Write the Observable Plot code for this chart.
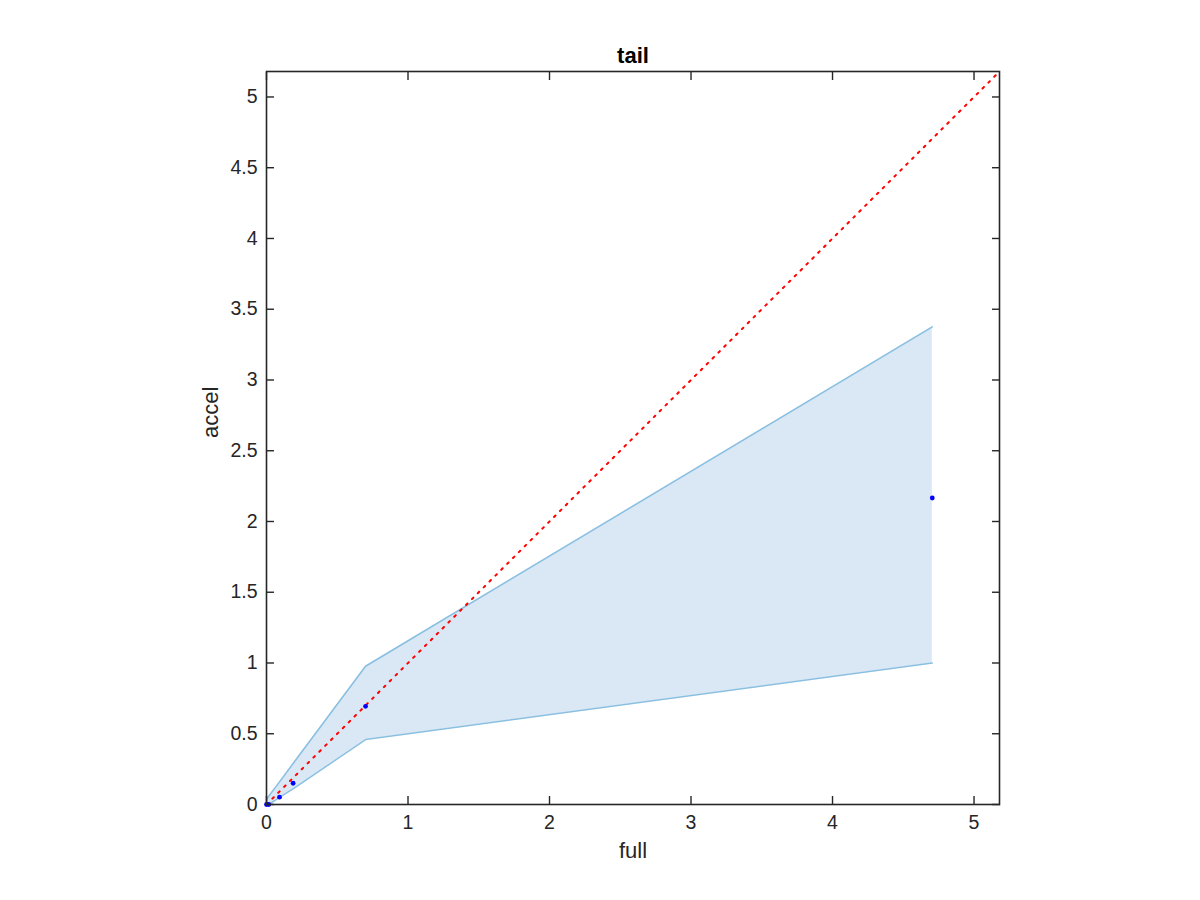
<!DOCTYPE html>
<html>
<head>
<meta charset="utf-8">
<script src="https://cdn.jsdelivr.net/npm/d3@7"></script>
<script src="https://cdn.jsdelivr.net/npm/@observablehq/plot@0.6"></script>
<style>
  html, body { margin: 0; padding: 0; background: #fff; }
  #chart { width: 1200px; height: 900px; }
  svg text { font-family: "Liberation Sans", Arial, Helvetica, sans-serif; }
  g[aria-label="x-axis tick label"], g[aria-label="y-axis tick label"] { font-size: 19.5px; }
</style>
</head>
<body>
<div id="chart"></div>
<script>
const title = "tail";
const xLabel = "full";
const yLabel = "accel";

// measured points
const ptX = [0, 0.016, 0.092, 0.188, 0.70, 4.705];
const ptY = [0, 0.0, 0.052, 0.15, 0.694, 2.166];

// confidence band
const bandX = [0, 0.016, 0.092, 0.188, 0.70, 4.705];
const bandLow = [0, 0.0, 0.05, 0.11, 0.459, 1.0];
const bandHigh = [0.035, 0.059, 0.16, 0.29, 0.977, 3.376];

// identity line extent
const diag = [0, 5.18];
const domainMax = 5.18;

const xTicks = [0, 1, 2, 3, 4, 5];
const yTicks = [0, 0.5, 1, 1.5, 2, 2.5, 3, 3.5, 4, 4.5, 5];

const pts = ptX.map((x, i) => ({x, y: ptY[i]}));
const band = bandX.map((x, i) => ({x, lo: bandLow[i], hi: bandHigh[i]}));
const diagData = diag.map(v => ({v}));

const axisColor = "#262626";
const tickFmt = d => String(d);

const chart = Plot.plot({
  width: 1200,
  height: 900,
  marginLeft: 266,
  marginRight: 201,
  marginTop: 71,
  marginBottom: 96,
  style: {fontFamily: "'Liberation Sans', Arial, Helvetica, sans-serif", background: "#fff"},
  x: {domain: [0, domainMax]},
  y: {domain: [0, domainMax]},
  marks: [
    Plot.areaY(band, {x: "x", y1: "lo", y2: "hi", fill: "#d9e8f4", fillOpacity: 1}),
    Plot.line(band, {x: "x", y: "hi", stroke: "#89bfe1", strokeWidth: 1.5}),
    Plot.line(band, {x: "x", y: "lo", stroke: "#89bfe1", strokeWidth: 1.5}),
    Plot.line(diagData, {x: "v", y: "v", stroke: "#ff0000", strokeWidth: 2, strokeDasharray: "2,6.3"}),
    Plot.dot(pts, {x: "x", y: "y", r: 2.4, fill: "#0000ff", stroke: "none"}),
    // inward ticks on all four sides
    Plot.axisX(xTicks, {anchor: "bottom", tickSize: -8, text: null, stroke: axisColor, label: null, strokeWidth: 1.4}),
    Plot.axisX(xTicks, {anchor: "top", tickSize: -8, text: null, stroke: axisColor, label: null, strokeWidth: 1.4}),
    Plot.axisY(yTicks, {anchor: "left", tickSize: -8, text: null, stroke: axisColor, label: null, strokeWidth: 1.4}),
    Plot.axisY(yTicks, {anchor: "right", tickSize: -8, text: null, stroke: axisColor, label: null, strokeWidth: 1.4}),
    // tick labels
    Plot.axisX(xTicks, {anchor: "bottom", tickSize: 0, tickPadding: 11, tickFormat: tickFmt, fontSize: 19.5, fill: axisColor, label: null}),
    Plot.axisY(yTicks, {anchor: "left", tickSize: 0, tickPadding: 9, tickFormat: tickFmt, fontSize: 19.5, fill: axisColor, label: null}),
    Plot.frame({stroke: axisColor, strokeWidth: 1.6}),
    Plot.text([xLabel], {frameAnchor: "bottom", lineAnchor: "middle", dy: 46, text: d => d, fontSize: 22, fill: axisColor}),
    Plot.text([yLabel], {frameAnchor: "left", lineAnchor: "middle", dx: -56, rotate: -90, text: d => d, fontSize: 22, fill: axisColor}),
    Plot.text([title], {frameAnchor: "top", lineAnchor: "middle", dy: -16, text: d => d, fontSize: 22, fontWeight: "bold", fill: "#000"})
  ]
});
document.getElementById("chart").appendChild(chart);
</script>
</body>
</html>
